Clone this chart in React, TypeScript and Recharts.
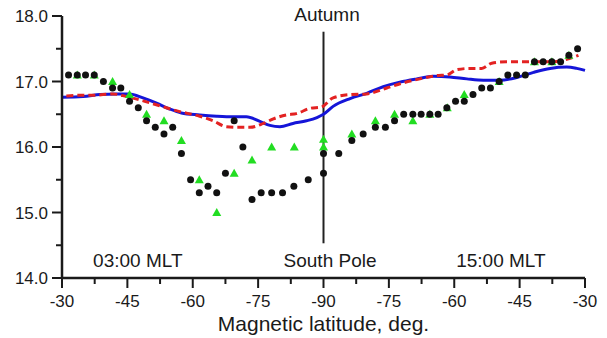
import React from "react";
import {
  ComposedChart,
  Line,
  Scatter,
  XAxis,
  YAxis,
  ReferenceLine,
  ReferenceDot,
} from "recharts";

// position along the pass: 0 = -30 (03:00 MLT side), 60 = pole, 120 = -30 (15:00 MLT side)
const xTicks = [0, 7.5, 15, 22.5, 30, 37.5, 45, 52.5, 60, 67.5, 75, 82.5, 90, 97.5, 105, 112.5, 120];
const xTickLabels = ["-30", "-45", "-60", "-75", "-90", "-75", "-60", "-45", "-30"];
const yTicks = [14, 14.5, 15, 15.5, 16, 16.5, 17, 17.5, 18];

const blackPos = [1.5, 3.5, 5.4, 7.4, 9.5, 11.6, 13.5, 15.5, 17.5, 19.4, 21.4, 23.4, 25.4, 27.4, 29.5, 31.5, 33.5, 35.5, 37.5, 39.5, 41.5, 43.6, 45.7, 48.1, 50.6, 53.2, 56.5, 60, 60, 63.5, 66.5, 69.1, 71.9, 74.2, 76.3, 78.4, 80.5, 82.4, 84.4, 86.3, 88.3, 90.3, 92.3, 94.3, 96.3, 98.3, 100.3, 102.3, 104.3, 106.3, 108.4, 110.4, 112.4, 114.4, 116.3, 118.3];
const blackVal = [17.1, 17.1, 17.1, 17.1, 17.0, 16.9, 16.9, 16.7, 16.6, 16.4, 16.3, 16.2, 16.3, 15.9, 15.5, 15.3, 15.4, 15.3, 15.6, 16.4, 16.0, 15.2, 15.3, 15.3, 15.3, 15.4, 15.5, 15.6, 15.9, 15.9, 16.1, 16.2, 16.3, 16.3, 16.4, 16.5, 16.5, 16.5, 16.5, 16.5, 16.6, 16.7, 16.7, 16.8, 16.9, 16.9, 17.0, 17.1, 17.1, 17.1, 17.3, 17.3, 17.3, 17.3, 17.4, 17.5];

const greenPos = [3.5, 7.4, 11.6, 15.5, 19.4, 23.4, 27.4, 31.5, 35.5, 39.5, 43.6, 48.1, 53.3, 60, 60, 66.5, 71.9, 76.3, 80.5, 84.4, 88.4, 92.3, 100.3, 108.4, 112.4, 116.3];
const greenVal = [17.1, 17.1, 17.0, 16.8, 16.5, 16.4, 16.1, 15.5, 15.0, 15.6, 15.8, 16.0, 16.0, 16.12, 16.0, 16.2, 16.4, 16.5, 16.4, 16.5, 16.6, 16.8, 17.0, 17.3, 17.3, 17.4];

const bluePos = [0, 4.8, 8.7, 12.5, 15.5, 18.6, 21.7, 24.7, 27.4, 31.6, 35.5, 39.3, 42.3, 45.4, 47.7, 50, 53, 56.1, 58.5, 60, 62.2, 66.1, 69.9, 73.7, 77.5, 81.4, 85.2, 89, 92.9, 96.7, 100.5, 104.3, 108.2, 112, 115.8, 118.1, 120];
const blueVal = [16.76, 16.77, 16.8, 16.81, 16.81, 16.75, 16.67, 16.58, 16.52, 16.49, 16.47, 16.46, 16.46, 16.39, 16.33, 16.31, 16.36, 16.4, 16.45, 16.5, 16.62, 16.74, 16.82, 16.92, 16.99, 17.04, 17.08, 17.07, 17.04, 17.02, 17.02, 17.06, 17.14, 17.2, 17.22, 17.2, 17.17];

const redPos = [1, 4, 7.1, 11.7, 14.8, 17.8, 22.4, 27, 31.6, 34.7, 37.7, 40.5, 43.1, 46.2, 48.5, 51.5, 53.8, 56.9, 59.5, 62.2, 66.1, 69.9, 74.5, 78.3, 82.1, 86, 88.3, 90.6, 93.6, 96.3, 98.6, 102, 108.2, 112.7, 115.8, 118.5];
const redVal = [16.78, 16.79, 16.79, 16.81, 16.77, 16.72, 16.63, 16.54, 16.47, 16.4, 16.31, 16.3, 16.3, 16.36, 16.43, 16.49, 16.51, 16.59, 16.61, 16.75, 16.8, 16.81, 16.9, 16.98, 17.04, 17.09, 17.1, 17.18, 17.2, 17.2, 17.28, 17.3, 17.3, 17.3, 17.34, 17.4];

const toPoints = (xs: number[], ys: number[]) => xs.map((x, i) => ({ x, y: ys[i] }));

const blackData = toPoints(blackPos, blackVal);
const greenData = toPoints(greenPos, greenVal);
const blueData = toPoints(bluePos, blueVal);
const redData = toPoints(redPos, redVal);

const FONT = "'Liberation Sans', Arial, sans-serif";
const INK = "#1a1a1a";

const XTick = (props: any) => {
  const { x, y, payload } = props;
  const v = payload.value as number;
  const major = v % 15 === 0;
  return (
    <g>
      <line x1={x} x2={x} y1={y} y2={y + (major ? 10 : 6)} stroke={INK} strokeWidth={2} />
      {major && (
        <text x={x} y={y + 29} textAnchor="middle" fontSize={17} fontFamily={FONT} fill={INK}>
          {xTickLabels[v / 15]}
        </text>
      )}
    </g>
  );
};

const YTick = (props: any) => {
  const { x, y, payload } = props;
  const v = payload.value as number;
  const major = Number.isInteger(v);
  return (
    <g>
      <line x1={x - (major ? 10 : 6)} x2={x} y1={y} y2={y} stroke={INK} strokeWidth={2} />
      {major && (
        <text x={x - 14} y={y + 6} textAnchor="end" fontSize={17} fontFamily={FONT} fill={INK}>
          {v.toFixed(1)}
        </text>
      )}
    </g>
  );
};

const Dot = (props: any) => <circle cx={props.cx} cy={props.cy} r={3.5} fill="#111" />;

const Tri = (props: any) => {
  const { cx, cy } = props;
  return (
    <polygon
      points={`${cx},${cy - 4.5} ${cx - 4.5},${cy + 3.5} ${cx + 4.5},${cy + 3.5}`}
      fill="#22dd22"
    />
  );
};

const note = (value: string) => ({
  value,
  position: "center" as const,
  fontSize: 19,
  fontFamily: FONT,
  fill: INK,
});

export default function App() {
  return (
    <div style={{ position: "absolute", left: 0, top: 0, background: "#fff" }}>
      <ComposedChart
        width={607}
        height={338}
        margin={{ top: 16, right: 22, left: 12, bottom: 10 }}
      >
        <XAxis
          type="number"
          dataKey="x"
          domain={[0, 120]}
          ticks={xTicks}
          interval={0}
          tick={<XTick />}
          tickLine={false}
          tickSize={0}
          tickMargin={0}
          axisLine={{ stroke: INK, strokeWidth: 2.5 }}
          height={50}
          allowDuplicatedCategory={false}
          label={{
            value: "Magnetic latitude, deg.",
            position: "insideBottom",
            offset: -2.5,
            fontSize: 21,
            fontFamily: FONT,
            fill: INK,
          }}
        />
        <YAxis
          type="number"
          domain={[14, 18]}
          ticks={yTicks}
          interval={0}
          tick={<YTick />}
          tickLine={false}
          tickSize={0}
          tickMargin={0}
          axisLine={{ stroke: INK, strokeWidth: 2.5 }}
          width={50}
        />
        <ReferenceLine
          segment={[
            { x: 60, y: 14.53 },
            { x: 60, y: 17.76 },
          ]}
          stroke="#222"
          strokeWidth={2}
        />
        <Line
          data={blueData}
          dataKey="y"
          type="monotone"
          stroke="#1515d8"
          strokeWidth={3}
          dot={false}
          isAnimationActive={false}
        />
        <Line
          data={redData}
          dataKey="y"
          type="monotone"
          stroke="#e32222"
          strokeWidth={3}
          strokeDasharray="7 4"
          dot={false}
          isAnimationActive={false}
        />
        <Scatter data={greenData} dataKey="y" shape={<Tri />} isAnimationActive={false} />
        <Scatter data={blackData} dataKey="y" shape={<Dot />} isAnimationActive={false} />
        <ReferenceDot x={17.4} y={14.27} r={0} fill="none" stroke="none" ifOverflow="visible" label={note("03:00 MLT")} />
        <ReferenceDot x={61.5} y={14.27} r={0} fill="none" stroke="none" ifOverflow="visible" label={note("South Pole")} />
        <ReferenceDot x={100.7} y={14.27} r={0} fill="none" stroke="none" ifOverflow="visible" label={note("15:00 MLT")} />
        <ReferenceDot x={60.8} y={18.02} r={0} fill="none" stroke="none" ifOverflow="visible" label={note("Autumn")} />
      </ComposedChart>
    </div>
  );
}
